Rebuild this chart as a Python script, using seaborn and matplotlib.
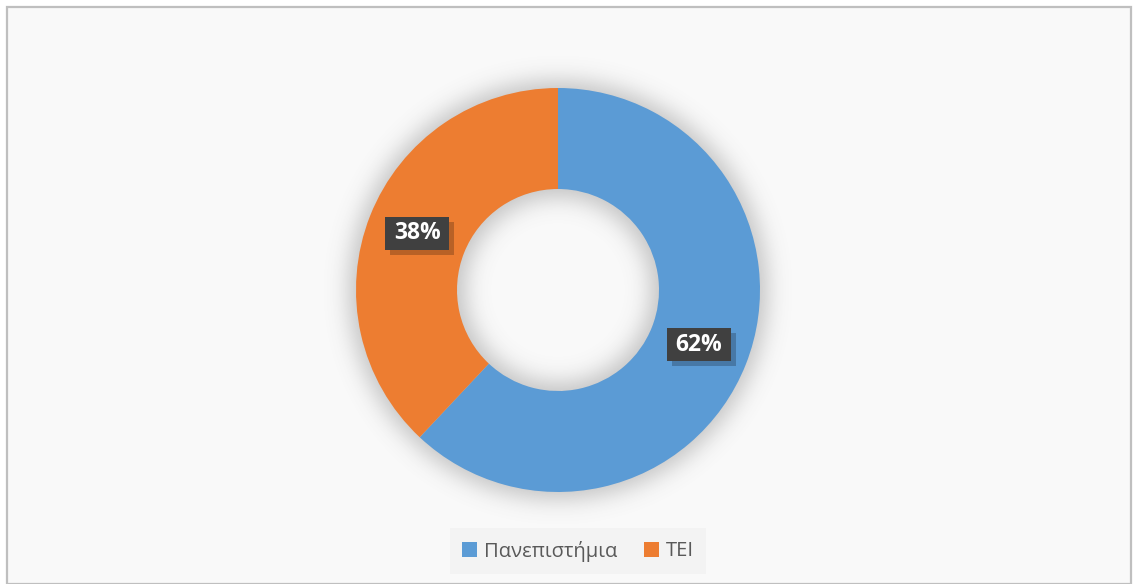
import numpy as np
import matplotlib
matplotlib.use("Agg")
import matplotlib.pyplot as plt
import matplotlib.patches as mpatches
import seaborn as sns

# Share of students by institution type
categories = ["Πανεπιστήμια", "TEI"]
shares = [62, 38]
colors = ["#5B9BD5", "#ED7D31"]

sns.set_theme(style="white")
plt.rcParams["font.family"] = ["Open Sans", "DejaVu Sans"]

W, H = 1138, 584
fig = plt.figure(figsize=(W / 100, H / 100), dpi=100, facecolor="white")

# Chart-area background and frame
frame = mpatches.Rectangle((7 / W, 0), (1131 - 7) / W, (H - 7) / H,
                           transform=fig.transFigure, facecolor="#F9F9F9",
                           edgecolor="#BFBFBF", linewidth=1.6, zorder=-10)
fig.patches.append(frame)

cx, cy, R = 558, 290, 202          # centre and outer radius in pixels
half = 260
ax = fig.add_axes([(cx - half) / W, (H - cy - half) / H, 2 * half / W, 2 * half / H])
ax.set_zorder(5)
ax.patch.set_alpha(0)
lim = half / R

# Soft shadow around the ring
n = 400
g = np.linspace(-lim, lim, n)
X, Y = np.meshgrid(g, g)
rr = np.hypot(X, Y)
mask = ((rr <= 1.04) & (rr >= 0.46)).astype(float)
sig = 11 / R / (g[1] - g[0])
k = np.arange(-int(4 * sig), int(4 * sig) + 1)
kern = np.exp(-0.5 * (k / sig) ** 2)
kern /= kern.sum()
blur = np.apply_along_axis(lambda v: np.convolve(v, kern, mode="same"), 0, mask)
blur = np.apply_along_axis(lambda v: np.convolve(v, kern, mode="same"), 1, blur)
rgba = np.zeros((n, n, 4))
rgba[..., :3] = 0.4
rgba[..., 3] = np.clip(blur, 0, 1) * 0.36
ax.imshow(rgba, extent=(-lim, lim, -lim, lim), origin="lower", zorder=1,
          interpolation="bilinear")

wedges, _ = ax.pie(shares, colors=colors, startangle=90, counterclock=False,
                   radius=1.0, wedgeprops=dict(width=0.5, edgecolor="none", linewidth=0))
for w in wedges:
    w.set_zorder(2)

# Value labels in dark boxes at the middle of each segment
bw, bh = 64 / R, 33 / R
d = 5 / R
start = 90.0
total = float(sum(shares))
for val in shares:
    span = 360.0 * val / total
    mid = np.deg2rad(start - span / 2)
    start -= span
    x, y = 0.75 * np.cos(mid), 0.75 * np.sin(mid) + 1 / R
    ax.add_patch(mpatches.Rectangle((x - bw / 2 + d, y - bh / 2 - d), bw, bh,
                                    facecolor="black", alpha=0.22, edgecolor="none", zorder=3))
    ax.add_patch(mpatches.Rectangle((x - bw / 2, y - bh / 2), bw, bh,
                                    facecolor="#404040", edgecolor="none", zorder=4))
    ax.text(x, y, f"{val}%", ha="center", va="center", fontsize=16.5,
            fontweight="bold", color="white", zorder=5)

ax.set_xlim(-lim, lim)
ax.set_ylim(-lim, lim)
ax.set_aspect("equal")
ax.axis("off")

handles = [mpatches.Patch(facecolor=c, edgecolor="none") for c in colors]
leg = fig.legend(handles, categories, loc="center", bbox_to_anchor=(578 / W, 1 - 551 / H),
                 ncol=2, frameon=True, fancybox=False, fontsize=14.5,
                 handlelength=0.75, handleheight=0.75, handletextpad=0.35,
                 columnspacing=1.3, borderpad=0.6)
leg.get_frame().set_facecolor("#F2F2F2")
leg.get_frame().set_edgecolor("none")
for t in leg.get_texts():
    t.set_color("#595959")

fig.savefig("out.png", dpi=100, facecolor="white")
